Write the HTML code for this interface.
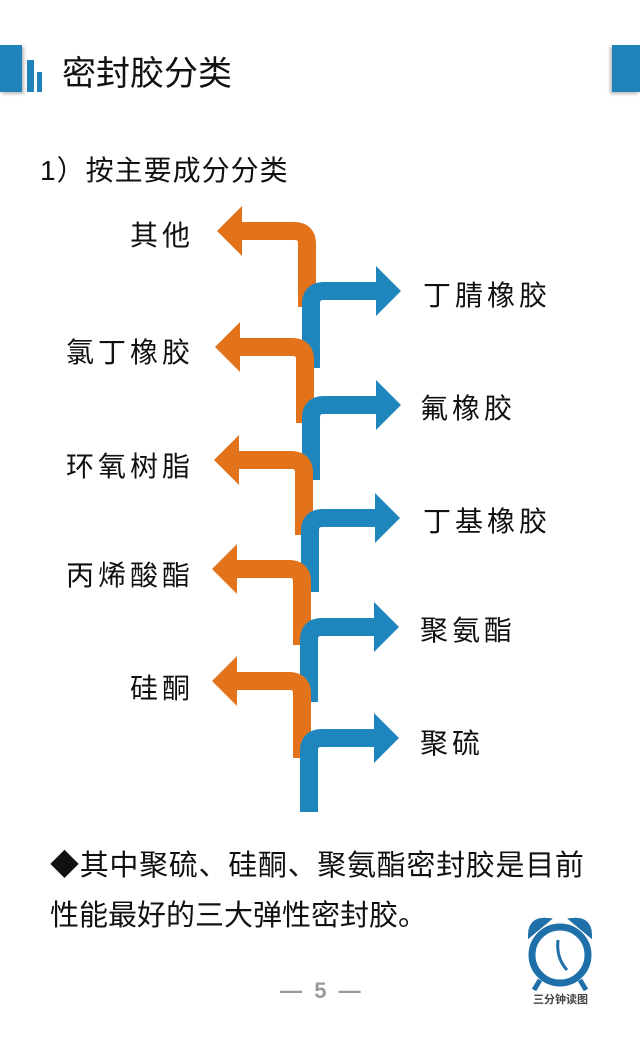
<!DOCTYPE html>
<html><head><meta charset="utf-8"><style>
html,body{margin:0;padding:0;background:#fff;}
body{width:640px;height:1040px;position:relative;overflow:hidden;font-family:"Liberation Sans","Noto Sans CJK SC",sans-serif;color:#111;}
.t{position:absolute;white-space:nowrap;line-height:1;}
.lab{font-size:28px;letter-spacing:4px;}
</style></head><body>
<div style="position:absolute;left:0;top:45px;width:22px;height:47px;background:#1f82b8;box-shadow:2px 2px 3px #bbb"></div>
<div style="position:absolute;left:27px;top:60px;width:7px;height:32px;background:#1f82b8"></div>
<div style="position:absolute;left:37px;top:72px;width:5px;height:20px;background:#1f82b8"></div>
<div style="position:absolute;left:612px;top:45px;width:28px;height:47px;background:#1f82b8;box-shadow:-2px 2px 3px #bbb"></div>
<div class="t" style="left:62px;top:57px;font-size:34px;">密封胶分类</div>
<div class="t" style="left:40px;top:157px;font-size:28px;letter-spacing:1px;">1）按主要成分分类</div>

<svg width="640" height="1040" style="position:absolute;left:0;top:0">
<g fill="none" stroke-width="18">
<path d="M307 307 V244 Q307 231 294 231 H240" stroke="#e2731a"/>
<polygon points="217,231 242,206 242,256" fill="#e2731a" stroke="none"/>
<path d="M311 368 V304 Q311 291 324 291 H378" stroke="#1f86bd"/>
<polygon points="401,291 376,266 376,316" fill="#1f86bd" stroke="none"/>

<path d="M305 423 V360 Q305 347 292 347 H238" stroke="#e2731a"/>
<polygon points="215,347 240,322 240,372" fill="#e2731a" stroke="none"/>
<path d="M311 480 V418 Q311 405 324 405 H378" stroke="#1f86bd"/>
<polygon points="401,405 376,380 376,430" fill="#1f86bd" stroke="none"/>

<path d="M304 535 V473 Q304 460 291 460 H237" stroke="#e2731a"/>
<polygon points="214,460 239,435 239,485" fill="#e2731a" stroke="none"/>
<path d="M310 592 V531 Q310 518 323 518 H377" stroke="#1f86bd"/>
<polygon points="400,518 375,493 375,543" fill="#1f86bd" stroke="none"/>

<path d="M302 645 V582 Q302 569 289 569 H235" stroke="#e2731a"/>
<polygon points="212,569 237,544 237,594" fill="#e2731a" stroke="none"/>
<path d="M309 702 V640 Q309 627 322 627 H376" stroke="#1f86bd"/>
<polygon points="399,627 374,602 374,652" fill="#1f86bd" stroke="none"/>

<path d="M302 758 V694 Q302 681 289 681 H235" stroke="#e2731a"/>
<polygon points="212,681 237,656 237,706" fill="#e2731a" stroke="none"/>
<path d="M309 812 V751 Q309 738 322 738 H376" stroke="#1f86bd"/>
<polygon points="399,738 374,713 374,763" fill="#1f86bd" stroke="none"/>
</g>
<g fill="none" stroke="#1f6fa8" stroke-width="7">
<circle cx="560" cy="955" r="28"/>
</g>
<path d="M530 935 Q530 918 548 920 Z" fill="#1f6fa8" stroke="#1f6fa8" stroke-width="4"/>
<path d="M590 935 Q590 918 572 920 Z" fill="#1f6fa8" stroke="#1f6fa8" stroke-width="4"/>
<path d="M558 940 Q556 958 567 970" fill="none" stroke="#1f6fa8" stroke-width="3"/>
<line x1="540" y1="980" x2="534" y2="990" stroke="#1f6fa8" stroke-width="5"/>
<line x1="580" y1="980" x2="586" y2="990" stroke="#1f6fa8" stroke-width="5"/>
</svg>

<div class="t lab" style="left:130px;top:222px;">其他</div>
<div class="t lab" style="left:423px;top:282px;">丁腈橡胶</div>
<div class="t lab" style="left:66px;top:339px;">氯丁橡胶</div>
<div class="t lab" style="left:420px;top:395px;">氟橡胶</div>
<div class="t lab" style="left:66px;top:453px;">环氧树脂</div>
<div class="t lab" style="left:423px;top:508px;">丁基橡胶</div>
<div class="t lab" style="left:66px;top:562px;">丙烯酸酯</div>
<div class="t lab" style="left:420px;top:617px;">聚氨酯</div>
<div class="t lab" style="left:130px;top:675px;">硅酮</div>
<div class="t lab" style="left:420px;top:730px;">聚硫</div>

<div class="t" style="left:50px;top:852px;font-size:29px;letter-spacing:0.7px;">◆其中聚硫、硅酮、聚氨酯密封胶是目前</div>
<div class="t" style="left:50px;top:902px;font-size:29px;letter-spacing:0px;">性能最好的三大弹性密封胶。</div>
<div class="t" style="left:280px;top:980px;font-size:22px;color:#999;font-weight:bold;">—&nbsp;&nbsp;5&nbsp;&nbsp;—</div>
<div class="t" style="left:533px;top:995px;font-size:11px;color:#444;font-weight:bold;">三分钟读图</div>
</body></html>
